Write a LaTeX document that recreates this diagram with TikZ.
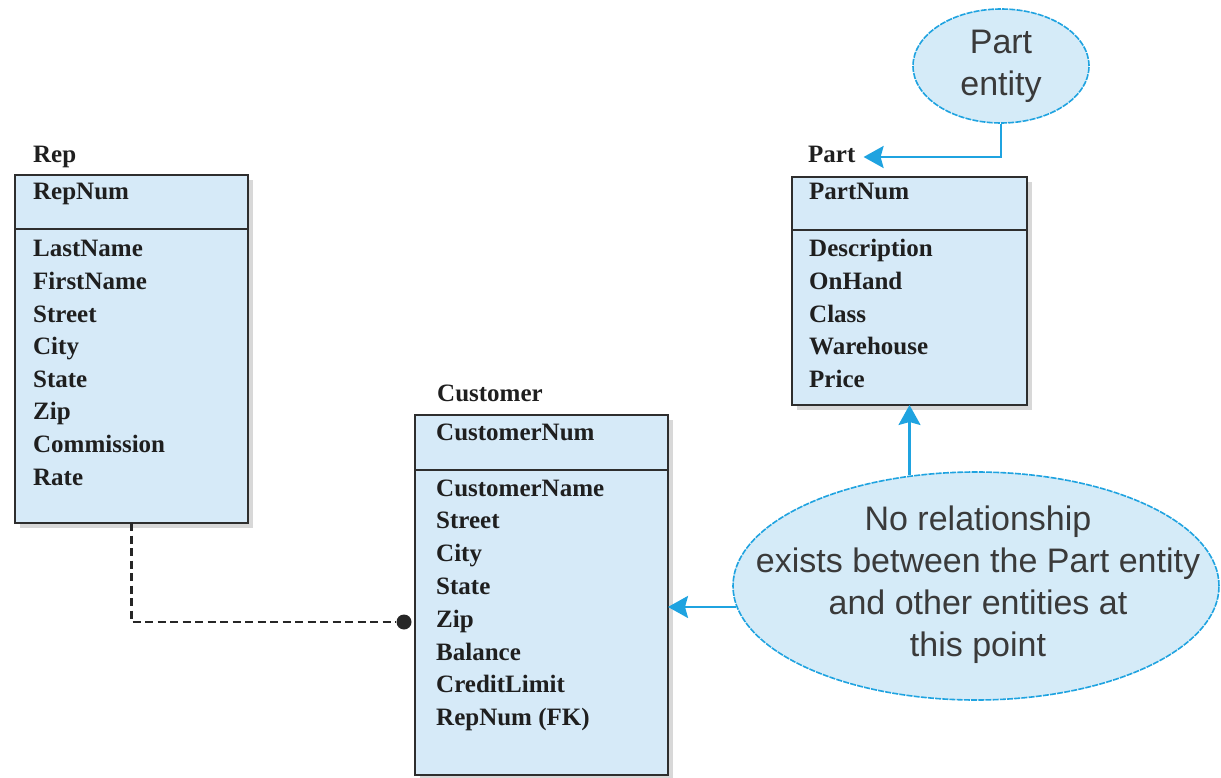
\documentclass[tikz,border=0pt]{standalone}
\usepackage{fontspec}
\setmainfont{Liberation Serif}
\newfontfamily\notefont{Liberation Sans}
\usetikzlibrary{arrows.meta,shapes.geometric,shadows,calc}
\definecolor{boxfill}{HTML}{D6EAF8}
\definecolor{edge}{HTML}{2E2E2E}
\definecolor{accent}{HTML}{1FA3E0}
\definecolor{notefill}{HTML}{D5EBF8}
\definecolor{notetext}{HTML}{3A3A3A}
\begin{document}
\begin{tikzpicture}[x=1pt,y=-1pt,
  entity/.style={draw=edge, line width=1.8pt, fill=boxfill, anchor=north west,
    inner sep=0pt, outer sep=0pt,
    drop shadow={shadow xshift=5pt, shadow yshift=-5pt, opacity=0.22, fill=black!70}},
  divider/.style={draw=edge, line width=1.8pt},
  attr/.style={anchor=west, inner sep=0pt, text=black!88, text height=18pt, text depth=6pt,
    font=\bfseries\fontsize{25}{30}\selectfont},
  note/.style={ellipse, draw=accent, line width=1.6pt, fill=notefill,
    dash pattern=on 6pt off 1.2pt, inner sep=0pt},
  notetxt/.style={align=center, text=notetext, inner sep=0pt,
    font=\notefont\fontsize{34}{42}\selectfont},
  arr/.style={draw=accent, line width=2.4pt,
    -{Stealth[length=20pt,width=22pt,inset=3pt]}},
  link/.style={draw=black!85, line width=2.3pt, dash pattern=on 8pt off 4.5pt},
]
\useasboundingbox (0,0) rectangle (1221,778);

% ---------- Rep ----------
\node[attr] (rep-title) at (33,157) {Rep};
\node[entity, minimum width=233pt, minimum height=348pt] (rep) at (15,175) {};
\draw[divider] (rep.west |- 0,229) -- (rep.east |- 0,229);
\node[attr] (rep-1) at (33,194) {RepNum};
\node[attr] (rep-2) at (33,250) {LastName};
\node[attr] (rep-3) at (33,283) {FirstName};
\node[attr] (rep-4) at (33,316) {Street};
\node[attr] (rep-5) at (33,348) {City};
\node[attr] (rep-6) at (33,381) {State};
\node[attr] (rep-7) at (33,413) {Zip};
\node[attr] (rep-8) at (33,446) {Commission};
\node[attr] (rep-9) at (33,479) {Rate};

% ---------- Customer ----------
\node[attr] (cust-title) at (437,395) {Customer};
\node[entity, minimum width=253pt, minimum height=360pt] (cust) at (415,415) {};
\draw[divider] (cust.west |- 0,470) -- (cust.east |- 0,470);
\node[attr] (cust-1) at (436,434) {CustomerNum};
\node[attr] (cust-2) at (436,490) {CustomerName};
\node[attr] (cust-3) at (436,522) {Street};
\node[attr] (cust-4) at (436,555) {City};
\node[attr] (cust-5) at (436,588) {State};
\node[attr] (cust-6) at (436,621) {Zip};
\node[attr] (cust-7) at (436,654) {Balance};
\node[attr] (cust-8) at (436,686) {CreditLimit};
\node[attr] (cust-9) at (436,719) {RepNum (FK)};

% ---------- Part ----------
\node[attr] (part-title) at (808,157) {Part};
\node[entity, minimum width=235pt, minimum height=228pt] (part) at (792,177) {};
\draw[divider] (part.west |- 0,230) -- (part.east |- 0,230);
\node[attr] (part-1) at (809,194) {PartNum};
\node[attr] (part-2) at (809,250) {Description};
\node[attr] (part-3) at (809,283) {OnHand};
\node[attr] (part-4) at (809,316) {Class};
\node[attr] (part-5) at (809,348) {Warehouse};
\node[attr] (part-6) at (809,381) {Price};

% ---------- Callouts ----------
\node[note, minimum width=176pt, minimum height=114pt] (pe) at (1001,66) {};
\node[notetxt] (pe-text) at (pe.center) {Part\\entity};

\node[note, minimum width=486pt, minimum height=228pt] (nr) at (976,586) {};
\node[notetxt] (nr-text) at (978,585)
  {No relationship\\exists between the Part entity\\and other entities at\\this point};

% ---------- Connectors ----------
\node[circle, fill=black!85, inner sep=0pt, minimum size=15pt] (dot) at (404,622) {};
\draw[link] (rep.south) |- (dot.west);

\draw[arr] (pe.south) |- ($(part-title.east)+(8,0)$);
\draw[arr] (nr.185) -- (nr.185 -| cust.east);
\draw[arr] ($(part.south |- nr.north)+(0,4)$) -- (part.south);
\end{tikzpicture}
\end{document}
